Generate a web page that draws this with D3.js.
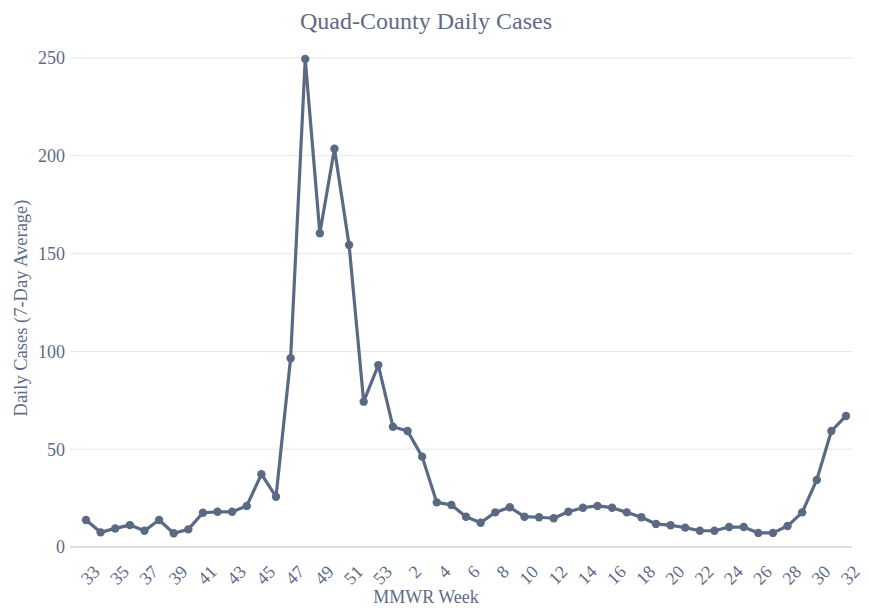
<!doctype html>
<html lang="en">
<head>
  <meta charset="utf-8">
  <title>Quad-County Daily Cases</title>
  <style type="text/css">
    body{ margin:0; background:#fff; }
    text{ font-family: "Liberation Serif", "Times New Roman", Times, serif; fill:#5d6c86; }
    .grid line{ stroke:#e3e6eb; stroke-width:1; }
    .xaxis path{ stroke:#b9c0cc; stroke-width:1.2; }
  </style>
</head>
<body>
  <div id="vis"></div>
  <script src="https://cdn.jsdelivr.net/npm/d3@7"></script>
  <script type="text/javascript">

    var width = 869,
      height = 608;

    // MMWR weeks, 33 (previous year) through 32
    var weeks = [33,34,35,36,37,38,39,40,41,42,43,44,45,46,47,48,49,50,51,52,53,
      1,2,3,4,5,6,7,8,9,10,11,12,13,14,15,16,17,18,19,20,21,22,23,24,25,26,27,28,29,30,31,32];

    var cases = [13.8,7.5,9.5,11.2,8.3,13.8,7.0,9.0,17.5,18.0,18.0,21.0,37.2,25.7,96.5,249.5,160.4,203.6,154.4,74.3,93.0,
      61.5,59.3,46.2,22.8,21.5,15.5,12.4,17.7,20.3,15.5,15.2,14.7,18.0,20.1,21.0,20.1,17.7,15.2,11.8,11.1,9.9,8.3,8.3,10.2,10.2,7.2,7.2,10.7,17.7,34.3,59.3,67.0];

    var yTicks = [0,50,100,150,200,250];
    var xTickWeeks = [33,35,37,39,41,43,45,47,49,51,53,2,4,6,8,10,12,14,16,18,20,22,24,26,28,30,32];

    var data = weeks.map(function(w,i){ return {week:String(w), value:cases[i]}; });

    var svg = d3.select("#vis").append("svg")
      .attr("width", width)
      .attr("height", height);

    var plotLeft = 70, plotRight = 852, plotTop = 58, plotBottom = 547;

    var x = d3.scalePoint()
      .domain(data.map(function(d){ return d.week; }))
      .range([86, 846]);

    var y = d3.scaleLinear()
      .domain([0, 250])
      .range([plotBottom, plotTop]);

    // gridlines
    svg.append("g")
      .attr("class", "grid")
      .selectAll("line")
      .data(yTicks.slice(1))
      .enter().append("line")
      .attr("x1", plotLeft).attr("x2", plotRight)
      .attr("y1", function(d){ return y(d); })
      .attr("y2", function(d){ return y(d); });

    // y tick labels
    svg.append("g")
      .selectAll("text")
      .data(yTicks)
      .enter().append("text")
      .attr("x", plotLeft - 5)
      .attr("y", function(d){ return y(d); })
      .attr("dy", "0.35em")
      .attr("text-anchor", "end")
      .style("font-size", "18px")
      .text(function(d){ return d; });

    // x axis line
    svg.append("g")
      .attr("class", "xaxis")
      .append("path")
      .attr("d", "M" + plotLeft + "," + plotBottom + "H" + plotRight);

    // x tick labels, rotated
    svg.append("g")
      .selectAll("text")
      .data(xTickWeeks)
      .enter().append("text")
      .attr("transform", function(d){
        return "translate(" + (x(String(d)) + 6) + "," + (plotBottom + 17) + ") rotate(-45)";
      })
      .attr("text-anchor", "end")
      .attr("dy", "0.7em")
      .style("font-size", "18px")
      .text(function(d){ return d; });

    // line
    var line = d3.line()
      .x(function(d){ return x(d.week); })
      .y(function(d){ return y(d.value); });

    svg.append("path")
      .datum(data)
      .attr("d", line)
      .style("fill", "none")
      .style("stroke", "#5b6a84")
      .style("stroke-width", 3.2)
      .style("stroke-linejoin", "round");

    svg.append("g")
      .selectAll("circle")
      .data(data)
      .enter().append("circle")
      .attr("cx", function(d){ return x(d.week); })
      .attr("cy", function(d){ return y(d.value); })
      .attr("r", 4.2)
      .style("fill", "#5b6a84");

    // titles
    svg.append("text")
      .attr("x", 426)
      .attr("y", 29)
      .attr("text-anchor", "middle")
      .style("font-size", "24px")
      .text("Quad-County Daily Cases");

    svg.append("text")
      .attr("x", 426)
      .attr("y", 603)
      .attr("text-anchor", "middle")
      .style("font-size", "18px")
      .text("MMWR Week");

    svg.append("text")
      .attr("transform", "translate(27,308) rotate(-90)")
      .attr("text-anchor", "middle")
      .style("font-size", "18.5px")
      .text("Daily Cases (7-Day Average)");

  </script>
</body>
</html>
